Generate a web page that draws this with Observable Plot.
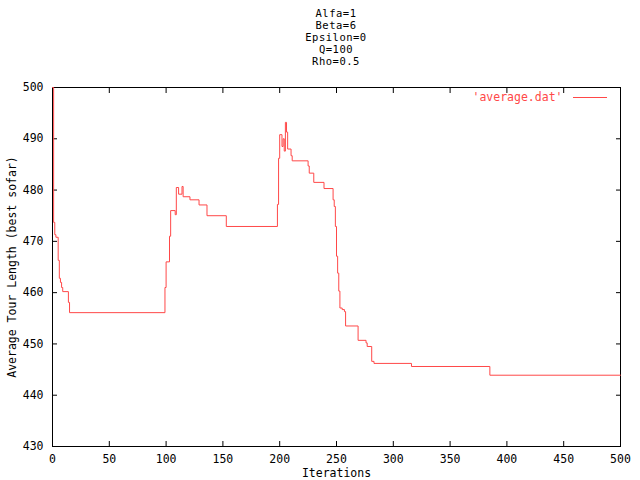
<!DOCTYPE html>
<html><head><meta charset="utf-8">
<script src="https://cdn.jsdelivr.net/npm/d3@7"></script>
<script src="https://cdn.jsdelivr.net/npm/@observablehq/plot@0.6"></script>
<style>
body{margin:0;background:#fff;}
#title{height:70px;box-sizing:border-box;padding-top:6.5px;margin-left:52px;width:568px;text-align:center;font:10.5px/12px "DejaVu Sans Mono",monospace;letter-spacing:0.5px;color:#000;}
#chart svg{display:block;}
</style></head><body>
<div id="title"></div>
<div id="chart"></div>
<script>
const titleLines = ["Alfa=1", "Beta=6", "Epsilon=0", "Q=100", "Rho=0.5"];
const iterations = [0, 1, 2, 3, 5, 6, 7, 8, 9, 14, 15, 99, 100, 103, 104, 108, 109, 111, 114, 115, 121, 129, 136, 153, 198, 199, 200, 202, 203, 204, 205, 206, 207, 210, 211, 225, 226, 230, 239, 247, 248, 249, 250, 251, 252, 253, 255, 257, 258, 269, 276, 277, 281, 283, 316, 385, 500];
const tourLength = [500, 473.7, 471.3, 470.8, 466.3, 462.8, 462, 461, 460.2, 458.1, 456.1, 461, 466, 471, 476, 475.2, 480.5, 479.2, 480.7, 478.7, 478.1, 477.1, 475, 472.9, 477.2, 486.2, 490.8, 488.5, 490, 487.6, 493.2, 491.3, 488, 486.7, 485.7, 484.7, 483.3, 481.5, 480.3, 478.1, 476.8, 472.9, 467.1, 463.8, 460.3, 457, 456.7, 456.3, 453.5, 450.7, 450.2, 449.5, 446.6, 446.2, 445.6, 443.9, 443.9];
const xTicks = [0, 50, 100, 150, 200, 250, 300, 350, 400, 450, 500];
const yTicks = [430, 440, 450, 460, 470, 480, 490, 500];
const xLabel = "Iterations";
const yLabel = "Average Tour Length (best sofar)";
const seriesName = "'average.dat'";
const red = "#ff4848";

document.getElementById("title").innerHTML = titleLines.map(t => `<div>${t}</div>`).join("");

const data = iterations.map((x, i) => ({x, y: tourLength[i]}));
const W = 640, H = 410, mT = 17, mB = 34, mL = 52, mR = 20;
const plot = Plot.plot({
  width: W, height: H,
  marginTop: mT, marginBottom: mB, marginLeft: mL, marginRight: mR,
  x: {domain: [0, 500]},
  y: {domain: [430, 500]},
  style: {fontFamily: "'DejaVu Sans Mono', monospace", fontSize: "11.5px", color: "black", background: "white"},
  marks: [
    Plot.frame({stroke: "black"}),
    Plot.axisX(xTicks, {anchor: "bottom", tickSize: -5, tickPadding: 13, label: null}),
    Plot.axisX(xTicks, {anchor: "top", tickSize: -5, tickFormat: () => "", label: null}),
    Plot.axisY(yTicks, {anchor: "left", tickSize: -5, tickPadding: 14, label: null}),
    Plot.axisY(yTicks, {anchor: "right", tickSize: -5, tickFormat: () => "", label: null}),
    Plot.line(data, {x: "x", y: "y", curve: "step-after", stroke: red, strokeWidth: 1}),
    Plot.text([xLabel], {text: d => d, frameAnchor: "bottom", dy: 27, textAnchor: "middle", lineAnchor: "middle"}),
    Plot.text([yLabel], {text: d => d, frameAnchor: "left", dx: -40, rotate: -90, textAnchor: "middle", lineAnchor: "middle"}),
    Plot.text([seriesName], {text: d => d, frameAnchor: "top-right", dx: -58, dy: 10, textAnchor: "end", lineAnchor: "middle", fill: red})
  ]
});
document.getElementById("chart").appendChild(plot);
const x2 = W - mR - 13, x1 = x2 - 34, ly = mT + 10.5;
d3.select(plot).append("line")
  .attr("x1", x1).attr("x2", x2).attr("y1", ly).attr("y2", ly)
  .attr("stroke", red).attr("stroke-width", 1);
</script>
</body></html>
